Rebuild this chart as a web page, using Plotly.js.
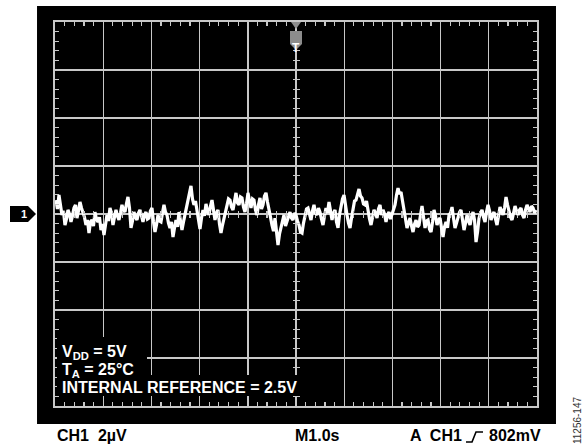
<!DOCTYPE html>
<html>
<head>
<meta charset="utf-8">
<script src="https://cdn.plot.ly/plotly-3.0.1.min.js"></script>
<style>html,body{margin:0;padding:0;background:#fff;}#chart{width:587px;height:446px;}</style>
</head>
<body>
<div id="chart"></div>
<script>
// Oscilloscope capture: CH1 2µV/div, M1.0s/div, trigger at centre
const sampleStart = -4.98;       // s
const sampleInterval = 0.031125; // s
const noiseUV = [
  0.58, 0.21, 0.79, 0.38, -0.04, 0.13, -0.46, -0.21, 0.17, 0.00, -0.33, -0.08, 0.25, 0.38, -0.17, 0.13, 0.50, 0.25, 0.08, -0.13,
  -0.46, -0.25, -0.79, -0.33, -0.25, -0.50, 0.08, -0.21, -0.33, -0.13, -0.67, -0.42, -0.88, -0.54, -0.04, -0.29, 0.25, 0.04, -0.46, -0.13,
  0.17, -0.08, -0.25, 0.04, 0.38, 0.17, 0.08, 0.42, 0.71, 0.25, -0.58, -0.29, 0.08, -0.13, -0.25, 0.04, 0.17, -0.08, -0.33, -0.04,
  0.08, -0.21, -0.17, 0.13, 0.25, -0.33, -0.75, -0.46, -0.04, -0.29, -0.33, 0.04, 0.38, 0.08, -0.04, -0.38, -0.58, -0.33, -0.96, -0.58,
  -0.25, -0.54, 0.08, -0.29, -0.67, -0.33, -0.04, 0.29, 0.58, 0.96, 1.17, 0.63, 0.38, 0.54, 0.08, -0.33, -0.63, -0.17, 0.17, -0.08,
  0.42, 0.13, -0.04, 0.33, 0.58, 0.17, -0.25, 0.04, 0.17, -0.42, -0.79, -0.46, -0.17, 0.13, 0.38, 0.63, 0.58, 0.29, 0.17, 0.54,
  0.88, 0.46, 0.38, 0.71, 0.67, 0.29, 0.08, 0.42, 0.88, 0.54, 0.25, 0.63, 0.58, 0.17, -0.04, 0.38, 0.67, 0.21, 0.38, 0.75,
  0.88, 0.50, 0.08, -0.13, -0.46, -0.71, -0.17, -0.88, -1.29, -0.83, -0.58, -0.21, -0.04, -0.50, -0.33, -0.08, 0.08, -0.17, -0.25, 0.04,
  -0.04, -0.29, -0.46, -0.75, -0.79, -0.38, -0.04, 0.21, 0.25, -0.08, -0.25, 0.13, 0.38, 0.04, -0.04, 0.25, 0.08, -0.21, -0.46, -0.08,
  0.25, 0.04, 0.50, 0.13, -0.25, 0.04, 0.17, -0.33, -0.58, -0.04, 0.38, 0.63, 0.79, 0.29, -0.04, -0.38, -0.58, -0.17, 0.25, 0.54,
  0.58, 0.83, 1.04, 0.75, 0.67, 0.42, 0.38, 0.54, 0.08, -0.21, -0.46, -0.13, 0.17, 0.04, -0.17, 0.21, 0.38, -0.04, 0.17, 0.00,
  -0.33, -0.04, 0.08, -0.21, -0.04, 0.17, 0.38, 0.79, 1.08, 0.83, 0.92, 0.54, 0.17, -0.29, -0.58, -0.38, -0.17, -0.50, -0.75, -0.42,
  -0.25, -0.54, -0.46, -0.04, 0.33, -0.13, -0.58, -0.29, -0.25, -0.63, -0.75, -0.33, 0.17, -0.08, -0.46, -0.25, -0.17, -0.58, -0.96, -0.54,
  -0.33, -0.58, -0.04, 0.04, 0.29, -0.17, -0.58, -0.38, -0.17, 0.08, 0.17, -0.25, -0.67, -0.38, -0.04, -0.29, -0.46, -0.13, 0.08, -0.25,
  -1.17, -0.75, -0.17, 0.04, 0.17, -0.13, -0.33, 0.08, 0.38, 0.13, -0.25, -0.04, 0.08, -0.21, -0.46, -0.08, 0.29, 0.13, -0.04, 0.25,
  0.71, 0.38, 0.08, -0.13, -0.25, 0.04, 0.33, 0.13, -0.04, 0.17, 0.25, -0.04, -0.17, 0.17, 0.38, 0.21, 0.08, 0.33, 0.25, 0.04,
  0.17
];
const timeS = noiseUV.map((_, i) => sampleStart + i * sampleInterval);

const xRange = [-5, 5];   // 10 divisions of 1.0 s
const yRange = [-8, 8];   // 8 divisions of 2 µV

const FONT = 'Liberation Sans, Arial, Helvetica, sans-serif';
const GRID = '#c8c8c8';
const TXT = 16;

function axisBase(extra) {
  return Object.assign({
    showticklabels: false, zeroline: false, ticks: '', fixedrange: true
  }, extra);
}

const traces = [
  {x: timeS, y: noiseUV, type: 'scatter', mode: 'lines',
   line: {color: '#ffffff', width: 3.2}, hoverinfo: 'skip', showlegend: false},
  {x: [], y: [], xaxis: 'x2', yaxis: 'y', type: 'scatter', showlegend: false},
  {x: [], y: [], xaxis: 'x3', yaxis: 'y', type: 'scatter', showlegend: false},
  {x: [], y: [], xaxis: 'x', yaxis: 'y2', type: 'scatter', showlegend: false},
  {x: [], y: [], xaxis: 'x', yaxis: 'y3', type: 'scatter', showlegend: false}
];

const centreMinorX = (side) => ({dtick: 0.2, ticks: side, ticklen: 3, tickcolor: GRID, tickwidth: 1.2, showgrid: false});
const centreMinorY = (side) => ({dtick: 0.4, ticks: side, ticklen: 3, tickcolor: GRID, tickwidth: 1.2, showgrid: false});

function pixRect(x0, x1, y0, y1) {
  return {type: 'rect', xref: 'paper', yref: 'paper', xsizemode: 'pixel', ysizemode: 'pixel',
    xanchor: 0, yanchor: 0, x0: x0, x1: x1, y0: y0, y1: y1,
    fillcolor: '#000000', line: {width: 0}, layer: 'above'};
}

const layout = {
  width: 587, height: 446,
  margin: {l: 55, r: 50, t: 22, b: 40, pad: 0},
  paper_bgcolor: '#ffffff', plot_bgcolor: '#000000',
  showlegend: false,
  font: {family: FONT},
  xaxis: axisBase({range: xRange, dtick: 1, showgrid: true, gridcolor: GRID, gridwidth: 1.4,
    showline: true, linecolor: GRID, linewidth: 1.6, mirror: 'ticks',
    minor: {dtick: 0.2, ticks: 'inside', ticklen: 4, tickcolor: GRID, tickwidth: 1.2, showgrid: false}}),
  yaxis: axisBase({range: yRange, dtick: 2, showgrid: true, gridcolor: GRID, gridwidth: 1.4,
    showline: true, linecolor: GRID, linewidth: 1.6, mirror: 'ticks',
    minor: {dtick: 0.4, ticks: 'inside', ticklen: 4, tickcolor: GRID, tickwidth: 1.2, showgrid: false}}),
  xaxis2: axisBase({range: xRange, overlaying: 'x', anchor: 'free', position: 0.5, showgrid: false, dtick: 1, minor: centreMinorX('outside')}),
  xaxis3: axisBase({range: xRange, overlaying: 'x', anchor: 'free', position: 0.5, showgrid: false, dtick: 1, minor: centreMinorX('inside')}),
  yaxis2: axisBase({range: yRange, overlaying: 'y', anchor: 'free', position: 0.5, showgrid: false, dtick: 2, minor: centreMinorY('outside')}),
  yaxis3: axisBase({range: yRange, overlaying: 'y', anchor: 'free', position: 0.5, showgrid: false, dtick: 2, minor: centreMinorY('inside')}),
  shapes: [
    // black scope screen
    {type: 'rect', xref: 'paper', yref: 'paper', x0: -0.0373, x1: 1.0394, y0: -0.0469, y1: 1.0417,
     fillcolor: '#000000', line: {width: 0}, layer: 'below'},
    // black panels behind the on-screen notes
    pixRect(2, 92, 30, 69),
    pixRect(2, 245, 10, 31),
    // trigger position marker
    {type: 'path', xref: 'x', yref: 'paper', xsizemode: 'pixel', ysizemode: 'pixel', xanchor: 0, yanchor: 1,
     path: 'M -5,0 L 5,0 L 0,-7 Z', fillcolor: '#8c8c8c', line: {width: 0}},
    {type: 'path', xref: 'x', yref: 'paper', xsizemode: 'pixel', ysizemode: 'pixel', xanchor: 0, yanchor: 1,
     path: 'M -6,-9 L 6,-9 L 6,-22 L 0,-28 L -6,-22 Z', fillcolor: '#8c8c8c', line: {width: 0}},
    // channel 1 ground marker
    {type: 'path', xref: 'paper', yref: 'y', xsizemode: 'pixel', ysizemode: 'pixel', xanchor: 0, yanchor: 0,
     path: 'M -45,8 L -27,8 L -19,0 L -27,-8 L -45,-8 Z', fillcolor: '#000000', line: {width: 0}},
    // rising-edge trigger symbol
    {type: 'path', xref: 'paper', yref: 'paper', xsizemode: 'pixel', ysizemode: 'pixel', xanchor: 0, yanchor: 0,
     path: 'M 411,-36 L 417,-36 L 421,-26 L 428,-26', line: {color: '#000000', width: 1.6}}
  ],
  annotations: [
    {xref: 'x', yref: 'paper', x: 0, y: 1, yshift: -17, text: '<b>T</b>', showarrow: false,
     font: {color: '#ffffff', size: 12, family: FONT}},
    {xref: 'paper', yref: 'y', x: 0, y: 0, xshift: -36, text: '<b>1</b>', showarrow: false,
     font: {color: '#ffffff', size: 11, family: FONT}},
    {xref: 'paper', yref: 'paper', x: 0.0104, y: 0.1406, xanchor: 'left', yanchor: 'middle',
     text: '<b>V<sub>DD</sub> = 5V</b>', showarrow: false, font: {color: '#ffffff', size: TXT, family: FONT}},
    {xref: 'paper', yref: 'paper', x: 0.0104, y: 0.09375, xanchor: 'left', yanchor: 'middle',
     text: '<b>T<sub>A</sub> = 25°C</b>', showarrow: false, font: {color: '#ffffff', size: TXT, family: FONT}},
    {xref: 'paper', yref: 'paper', x: 0.0104, y: 0.0469, xanchor: 'left', yanchor: 'middle',
     text: '<b>INTERNAL REFERENCE = 2.5V</b>', showarrow: false, font: {color: '#ffffff', size: TXT, family: FONT}},
    {xref: 'paper', yref: 'paper', x: 0, y: -0.078, xanchor: 'left', yanchor: 'middle',
     text: '<b>CH1  2µV</b>', showarrow: false, font: {color: '#000000', size: TXT, family: FONT}},
    {xref: 'paper', yref: 'paper', x: 0.4938, y: -0.078, xanchor: 'left', yanchor: 'middle',
     text: '<b>M1.0s</b>', showarrow: false, font: {color: '#000000', size: TXT, family: FONT}},
    {xref: 'paper', yref: 'paper', x: 0.7324, y: -0.078, xanchor: 'left', yanchor: 'middle',
     text: '<b>A  CH1</b>', showarrow: false, font: {color: '#000000', size: TXT, family: FONT}},
    {xref: 'paper', yref: 'paper', x: 0.8963, y: -0.078, xanchor: 'left', yanchor: 'middle',
     text: '<b>802mV</b>', showarrow: false, font: {color: '#000000', size: TXT, family: FONT}},
    {xref: 'paper', yref: 'paper', x: 1.083, y: -0.0365, xanchor: 'center', yanchor: 'middle', textangle: -90,
     text: '11256-147', showarrow: false, font: {color: '#333333', size: 10, family: FONT}}
  ]
};

Plotly.newPlot('chart', traces, layout, {staticPlot: true, displayModeBar: false});
</script>
</body>
</html>
